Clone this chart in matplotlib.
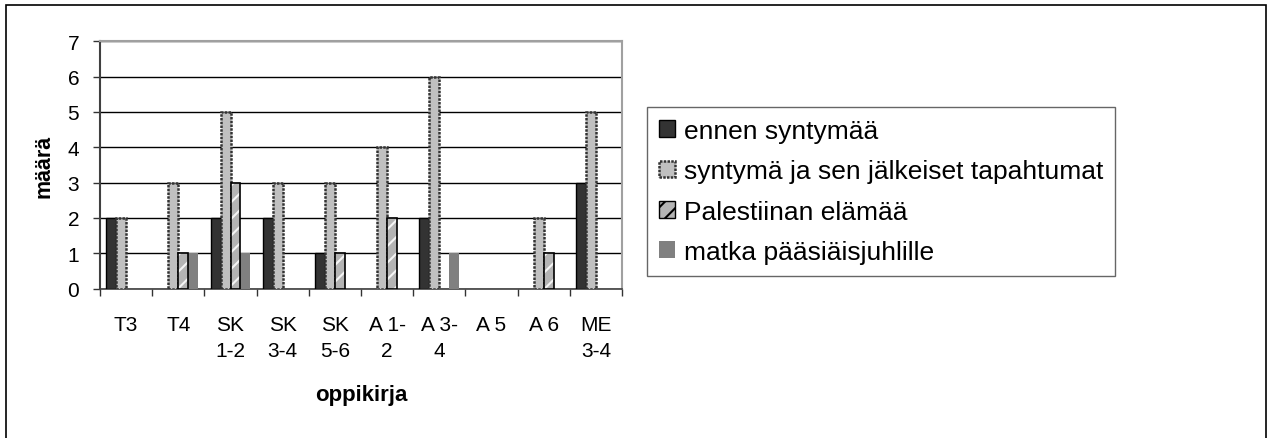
import matplotlib
matplotlib.use("Agg")
import matplotlib.pyplot as plt
import numpy as np
from matplotlib.patches import Rectangle, Patch

categories = ["T3", "T4", "SK\n1-2", "SK\n3-4", "SK\n5-6", "A 1-\n2", "A 3-\n4", "A 5", "A 6", "ME\n3-4"]
series_names = ["ennen syntymää", "syntymä ja sen jälkeiset tapahtumat",
                "Palestiinan elämää", "matka pääsiäisjuhlille"]
ennen = [2, 0, 2, 2, 1, 0, 2, 0, 0, 3]
syntyma = [2, 3, 5, 3, 3, 4, 6, 0, 2, 5]
palestiina = [0, 1, 3, 0, 1, 2, 0, 0, 1, 0]
matka = [0, 1, 1, 0, 0, 0, 1, 0, 0, 0]
y_ticks = [0, 1, 2, 3, 4, 5, 6, 7]

plt.rcParams['font.family'] = ['Liberation Sans', 'DejaVu Sans']
plt.rcParams['hatch.linewidth'] = 1.5

W, H = 1267, 439
fig = plt.figure(figsize=(W / 100, H / 100), dpi=100)
fig.patch.set_facecolor('white')

# outer frame
fig.patches.append(Rectangle((6 / W, -0.05), (W - 7) / W, (H - 6) / H + 0.05,
                             transform=fig.transFigure, fill=False,
                             edgecolor='black', linewidth=1.2))

left, right, top, bottom = 100, 622, 42.3, 289.6
ax = fig.add_axes([left / W, 1 - bottom / H, (right - left) / W, (bottom - top) / H])

def nz(v):
    a = np.array(v, dtype=float)
    a[a == 0] = np.nan
    return a

x = np.arange(len(categories))
bw = 0.19
offs = np.array([-1.5, -0.5, 0.5, 1.5]) * bw

ax.bar(x + offs[0], nz(ennen), bw, color='#333333', edgecolor='black', linewidth=1.0, zorder=3)
ax.bar(x + offs[1], nz(syntyma), bw, color='#c0c0c0', edgecolor='#333333', linewidth=1.8,
       linestyle=(0, (1, 0.5)), zorder=3)
ax.bar(x + offs[2], nz(palestiina), bw, color='#b4b4b4', edgecolor='#f4f4f4', hatch='//',
       linewidth=0, zorder=3)
ax.bar(x + offs[2], nz(palestiina), bw, fill=False, edgecolor='black', linewidth=1.2, zorder=4)
ax.bar(x + offs[3], nz(matka), bw, color='#808080', linewidth=0, zorder=3)

ax.set_xlim(-0.5, len(categories) - 0.5)
ax.set_ylim(0, 7)
ax.set_yticks(y_ticks)
ax.yaxis.grid(True, color='black', linewidth=1.0, zorder=0)
ax.set_axisbelow(True)

ax.set_xticks(np.arange(len(categories) + 1) - 0.5)
ax.set_xticklabels([])
ax.set_xticks(x, minor=True)
ax.set_xticklabels(categories, minor=True, fontsize=15, linespacing=1.5)
ax.tick_params(axis='x', which='major', direction='out', length=5, width=1, color='#333333')
ax.tick_params(axis='x', which='minor', length=0, pad=19)
ax.tick_params(axis='y', direction='out', length=5, width=1, color='#333333', labelsize=15, pad=10)

for s in ['top', 'right']:
    ax.spines[s].set_color('#a0a0a0')
    ax.spines[s].set_linewidth(1.5)
ax.spines['left'].set_color('#404040')
ax.spines['left'].set_linewidth(1.5)
ax.spines['bottom'].set_color('#404040')
ax.spines['bottom'].set_linewidth(1.2)

ax.set_xlabel('oppikirja', fontsize=16, fontweight='bold', labelpad=17)
ax.set_ylabel('määrä', fontsize=15.5, fontweight='bold', labelpad=9)

handles = [
    Patch(facecolor='#333333', edgecolor='black', linewidth=1.0),
    Patch(facecolor='#c0c0c0', edgecolor='#333333', linewidth=1.8, linestyle=(0, (1, 0.5))),
    Patch(facecolor='#b4b4b4', edgecolor='black', hatch='//', linewidth=1.0),
    Patch(facecolor='#808080', edgecolor='none'),
]
leg = fig.legend(handles, series_names, loc='upper left',
                 bbox_to_anchor=(647 / W, 1 - 108 / H), fontsize=19,
                 frameon=True, fancybox=False, handlelength=0.6, handleheight=0.6,
                 handletextpad=0.35, labelspacing=0.62, borderpad=0.45, borderaxespad=0)
leg.get_frame().set_edgecolor('#404040')
leg.get_frame().set_linewidth(1.0)

fig.savefig('out.png', dpi=100)
